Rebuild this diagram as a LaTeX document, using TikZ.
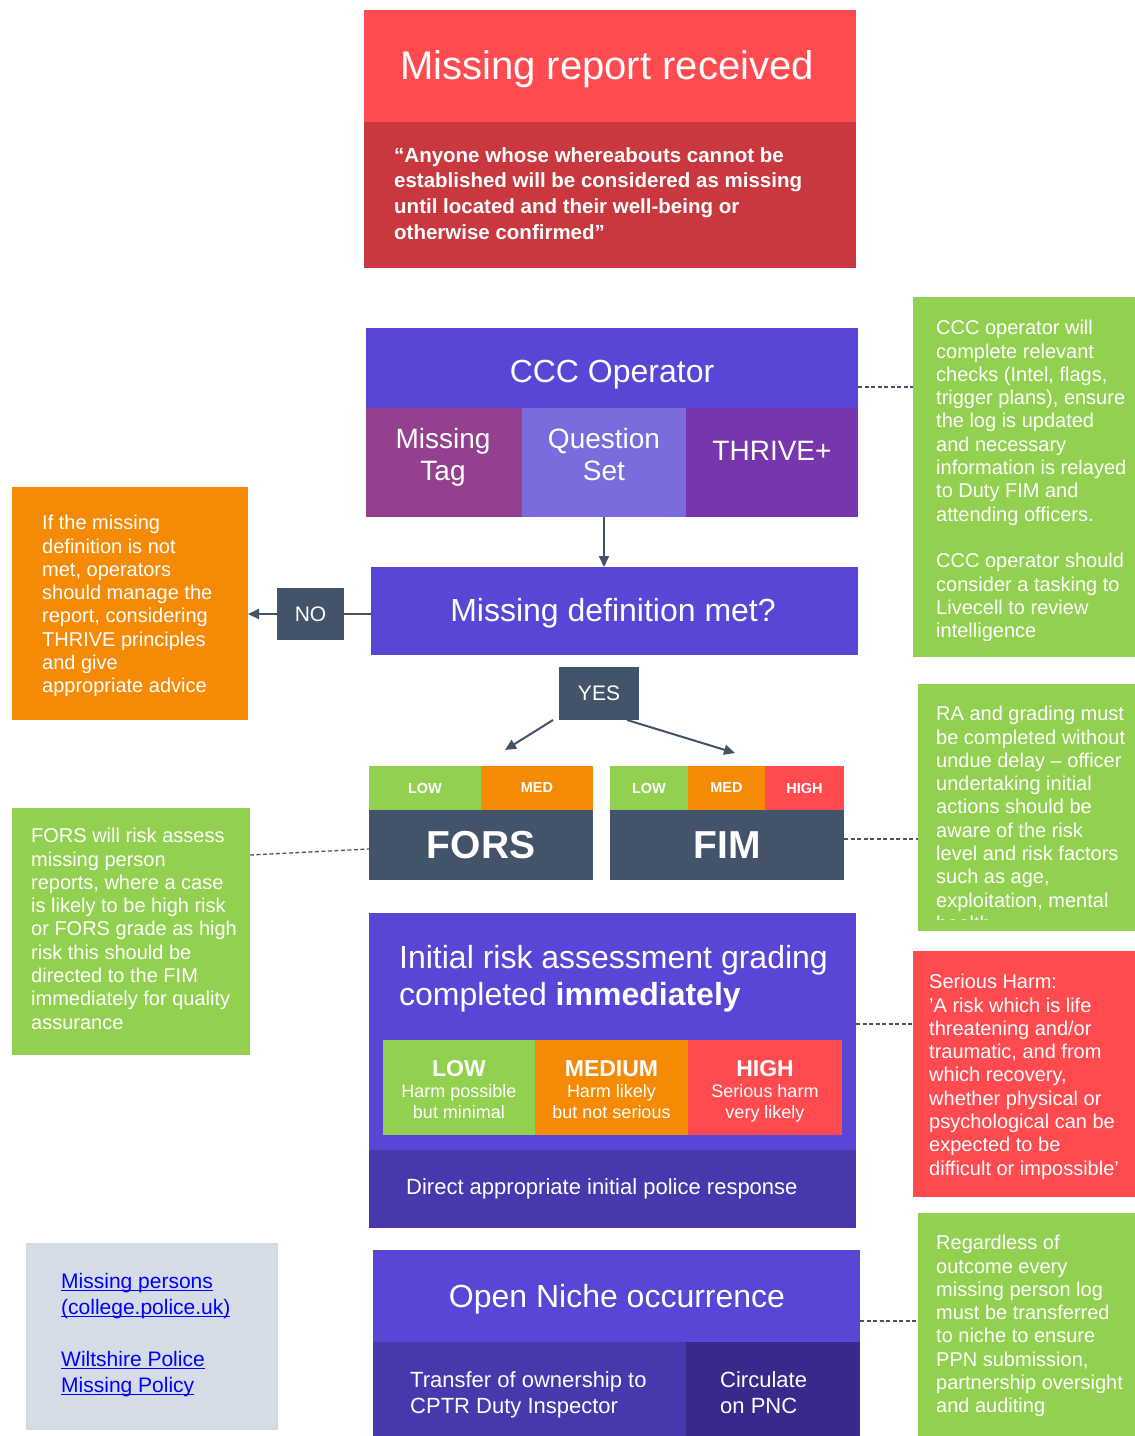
\documentclass[tikz,border=0pt]{standalone}
\usepackage{fontspec}
\setmainfont{Liberation Sans}
\usetikzlibrary{arrows.meta}
\definecolor{redA}{HTML}{FF4A50}
\definecolor{redB}{HTML}{C8383E}
\definecolor{purp}{HTML}{5A46D6}
\definecolor{purpD}{HTML}{4838AD}
\definecolor{purpE}{HTML}{38298A}
\definecolor{mtagc}{HTML}{94408F}
\definecolor{qsetc}{HTML}{7B6CDD}
\definecolor{thrc}{HTML}{7836AE}
\definecolor{grn}{HTML}{92D050}
\definecolor{orgc}{HTML}{F58A07}
\definecolor{slate}{HTML}{435369}
\definecolor{lgrey}{HTML}{D6DCE5}
\definecolor{lnkblue}{HTML}{0000FF}
\newcommand\mybox[6]{\node[blk,fill=#2,minimum width={(#5)-(#3)},minimum height={(#6)-(#4)}] (#1) at (#3,#4) {};}
\newcommand\lnk[1]{\setbox0\hbox{#1}\rlap{\rule[-2.6pt]{\wd0}{1.3pt}}\box0}
\tikzset{
  blk/.style={rectangle, draw=none, inner sep=0pt, outer sep=0pt, anchor=north west, text=white},
  tx/.style={text=white, align=left, anchor=north west, inner sep=0pt, font=\fontsize{20}{23.3}\selectfont},
  ttl/.style={text=white, anchor=base, inner sep=0pt, font=\fontsize{32}{37}\selectfont},
  arr/.style={draw=slate, line width=2pt, -{Triangle[length=11pt,width=10pt]}},
  dsh/.style={draw=slate, line width=1.3pt, dash pattern=on 4pt off 2.5pt},
}
\begin{document}
\begin{tikzpicture}[x=1pt,y=-1pt]
\useasboundingbox (0,0) rectangle (1135,1436);
% Missing report
\mybox{mrtop}{redA}{364}{10}{856}{122}
\mybox{mrbody}{redB}{364}{122}{856}{268}
\node[ttl, font=\fontsize{40}{44}\selectfont] (mrtitle) at (607,79) {Missing report received};
\node[tx, font=\fontsize{20.5}{25.7}\selectfont\bfseries] (mrtext) at (394,147) {“Anyone whose whereabouts cannot be\\established will be considered as missing\\until located and their well-being or\\otherwise confirmed”};
% CCC operator
\mybox{ccc}{purp}{366}{328}{858}{517}
\mybox{mt}{mtagc}{366}{408}{522}{517}
\mybox{qs}{qsetc}{522}{408}{686}{517}
\mybox{thr}{thrc}{686}{408}{858}{517}
\node[ttl] (ccct) at (612,382) {CCC Operator};
\node[text=white, align=center, anchor=north, inner sep=0pt, font=\fontsize{28}{32}\selectfont] (mtt) at (443,428) {Missing\\Tag};
\node[text=white, align=center, anchor=north, inner sep=0pt, font=\fontsize{28}{32}\selectfont] (qst) at (604,428) {Question\\Set};
\node[ttl, font=\fontsize{28}{32}\selectfont] (thrt) at (772,460) {THRIVE+};
% Missing definition
\mybox{def}{purp}{371}{567}{858}{655}
\node[ttl] (deft) at (613,621) {Missing definition met?};
\draw[arr] (qs.south) -- (qs.south |- def.north);
% NO
\node[blk, fill=slate, minimum width=67pt, minimum height=52pt, font=\fontsize{21}{24}\selectfont] (no) at (277,588) {NO};
\mybox{org}{orgc}{12}{487}{248}{720}
\draw[slate, line width=2pt] (no.east) -- (no.east -| def.west);
\draw[arr] (no.west) -- (no.west -| org.east);
\node[tx] (orgt) at (42,515) {If the missing\\definition is not\\met, operators\\should manage the\\report, considering\\THRIVE principles\\and give\\appropriate advice};
% YES
\node[blk, fill=slate, minimum width=80pt, minimum height=53pt, font=\fontsize{21}{24}\selectfont] (yes) at (559,667) {YES};
% FORS
\node[blk, fill=grn, minimum width=112pt, minimum height=44pt, font=\fontsize{14.5}{16}\selectfont\bfseries] (forslow) at (369,766) {LOW};
\node[blk, fill=orgc, minimum width=112pt, minimum height=44pt, font=\fontsize{14.5}{16}\selectfont\bfseries] (forsmed) at (481,766) {MED};
\node[blk, fill=slate, minimum width=224pt, minimum height=70pt, font=\fontsize{39}{44}\selectfont\bfseries] (fors) at (369,810) {FORS};
% FIM
\node[blk, fill=grn, minimum width=78pt, minimum height=44pt, font=\fontsize{14.5}{16}\selectfont\bfseries] (fimlow) at (610,766) {LOW};
\node[blk, fill=orgc, minimum width=77pt, minimum height=44pt, font=\fontsize{14.5}{16}\selectfont\bfseries] (fimmed) at (688,766) {MED};
\node[blk, fill=redA, minimum width=79pt, minimum height=44pt, font=\fontsize{14.5}{16}\selectfont\bfseries] (fimhigh) at (765,766) {HIGH};
\node[blk, fill=slate, minimum width=234pt, minimum height=70pt, font=\fontsize{39}{44}\selectfont\bfseries] (fim) at (610,810) {FIM};
\draw[arr] ([xshift=-6pt]yes.south west) -- ([xshift=24pt,yshift=16pt]forslow.north east);
\draw[arr] ([xshift=-12pt]yes.south east) -- ([xshift=-30pt,yshift=13pt]fimmed.north east);
% right green 1
\mybox{rg1}{grn}{913}{297}{1135}{657}
\node[tx] (rg1t) at (936,320) {CCC operator will\\complete relevant\\checks (Intel, flags,\\trigger plans), ensure\\the log is updated\\and necessary\\information is relayed\\to Duty FIM and\\attending officers.\\[23.3pt]CCC operator should\\consider a tasking to\\Livecell to review\\intelligence};
\draw[dsh] (ccc.east |- 0,387) -- (rg1.west |- 0,387);
% right green 2
\mybox{rg2}{grn}{918}{684}{1135}{931}
\begin{scope}
\clip (918,684) rectangle (1135,919);
\node[tx] (rg2t) at (936,706) {RA and grading must\\be completed without\\undue delay – officer\\undertaking initial\\actions should be\\aware of the risk\\level and risk factors\\such as age,\\exploitation, mental\\health};
\end{scope}
\draw[dsh] (fim.east |- 0,839) -- (rg2.west |- 0,839);
% left green
\mybox{lg}{grn}{12}{808}{250}{1055}
\node[tx] (lgt) at (31,828) {FORS will risk assess\\missing person\\reports, where a case\\is likely to be high risk\\or FORS grade as high\\risk this should be\\directed to the FIM\\immediately for quality\\assurance};
\draw[dsh] (lg.east |- 0,855) -- (fors.west |- 0,849);
% initial risk
\mybox{risk}{purp}{369}{913}{856}{1228}
\mybox{riskb}{purpD}{369}{1150}{856}{1228}
\node[tx, font=\fontsize{32}{37}\selectfont] (riskt) at (399,945) {Initial risk assessment grading\\completed \textbf{immediately}};
\mybox{rlow}{grn}{383}{1040}{535}{1135}
\mybox{rmed}{orgc}{535}{1040}{688}{1135}
\mybox{rhigh}{redA}{688}{1040}{842}{1135}
\node[text=white, anchor=base, inner sep=0pt, font=\fontsize{23}{26}\selectfont\bfseries] (rlowt) at (rlow.center |- 0,1076) {LOW};
\node[text=white, anchor=base, inner sep=0pt, font=\fontsize{23}{26}\selectfont\bfseries] (rmedt) at (rmed.center |- 0,1076) {MEDIUM};
\node[text=white, anchor=base, inner sep=0pt, font=\fontsize{23}{26}\selectfont\bfseries] (rhight) at (rhigh.center |- 0,1076) {HIGH};
\node[text=white, align=center, anchor=north, inner sep=0pt, font=\fontsize{18}{21}\selectfont] (rlows) at (rlow.center |- 0,1084) {Harm possible\\but minimal};
\node[text=white, align=center, anchor=north, inner sep=0pt, font=\fontsize{18}{21}\selectfont] (rmeds) at (rmed.center |- 0,1084) {Harm likely\\but not serious};
\node[text=white, align=center, anchor=north, inner sep=0pt, font=\fontsize{18}{21}\selectfont] (rhighs) at (rhigh.center |- 0,1084) {Serious harm\\very likely};
\node[text=white, anchor=base west, inner sep=0pt, font=\fontsize{22}{26}\selectfont] (direct) at (406,1194) {Direct appropriate initial police response};
% serious harm
\mybox{sh}{redA}{913}{951}{1135}{1197}
\node[tx] (sht) at (929,974) {Serious Harm:\\'A risk which is life\\threatening and/or\\traumatic, and from\\which recovery,\\whether physical or\\psychological can be\\expected to be\\difficult or impossible'};
\draw[dsh] (risk.east |- 0,1024) -- (sh.west |- 0,1024);
% links
\mybox{links}{lgrey}{26}{1243}{278}{1430}
\node[tx, text=lnkblue, font=\fontsize{21}{26}\selectfont] (linkt) at (61,1273) {\lnk{Missing persons}\\\lnk{(college.police.uk)}\\[26pt]\lnk{Wiltshire Police}\\\lnk{Missing Policy}};
% open niche
\mybox{niche}{purp}{373}{1250}{860}{1436}
\mybox{nbl}{purpD}{373}{1342}{686}{1436}
\mybox{nbr}{purpE}{686}{1342}{860}{1436}
\node[ttl] (nichet) at (617,1307) {Open Niche occurrence};
\node[tx, font=\fontsize{22}{26}\selectfont] (nblt) at (410,1371) {Transfer of ownership to\\CPTR Duty Inspector};
\node[tx, font=\fontsize{22}{26}\selectfont] (nbrt) at (720,1371) {Circulate\\on PNC};
% right green 3
\mybox{rg3}{grn}{918}{1213}{1135}{1436}
\node[tx] (rg3t) at (936,1235) {Regardless of\\outcome every\\missing person log\\must be transferred\\to niche to ensure\\PPN submission,\\partnership oversight\\and auditing};
\draw[dsh] (niche.east |- 0,1321) -- (rg3.west |- 0,1321);
\end{tikzpicture}
\end{document}
